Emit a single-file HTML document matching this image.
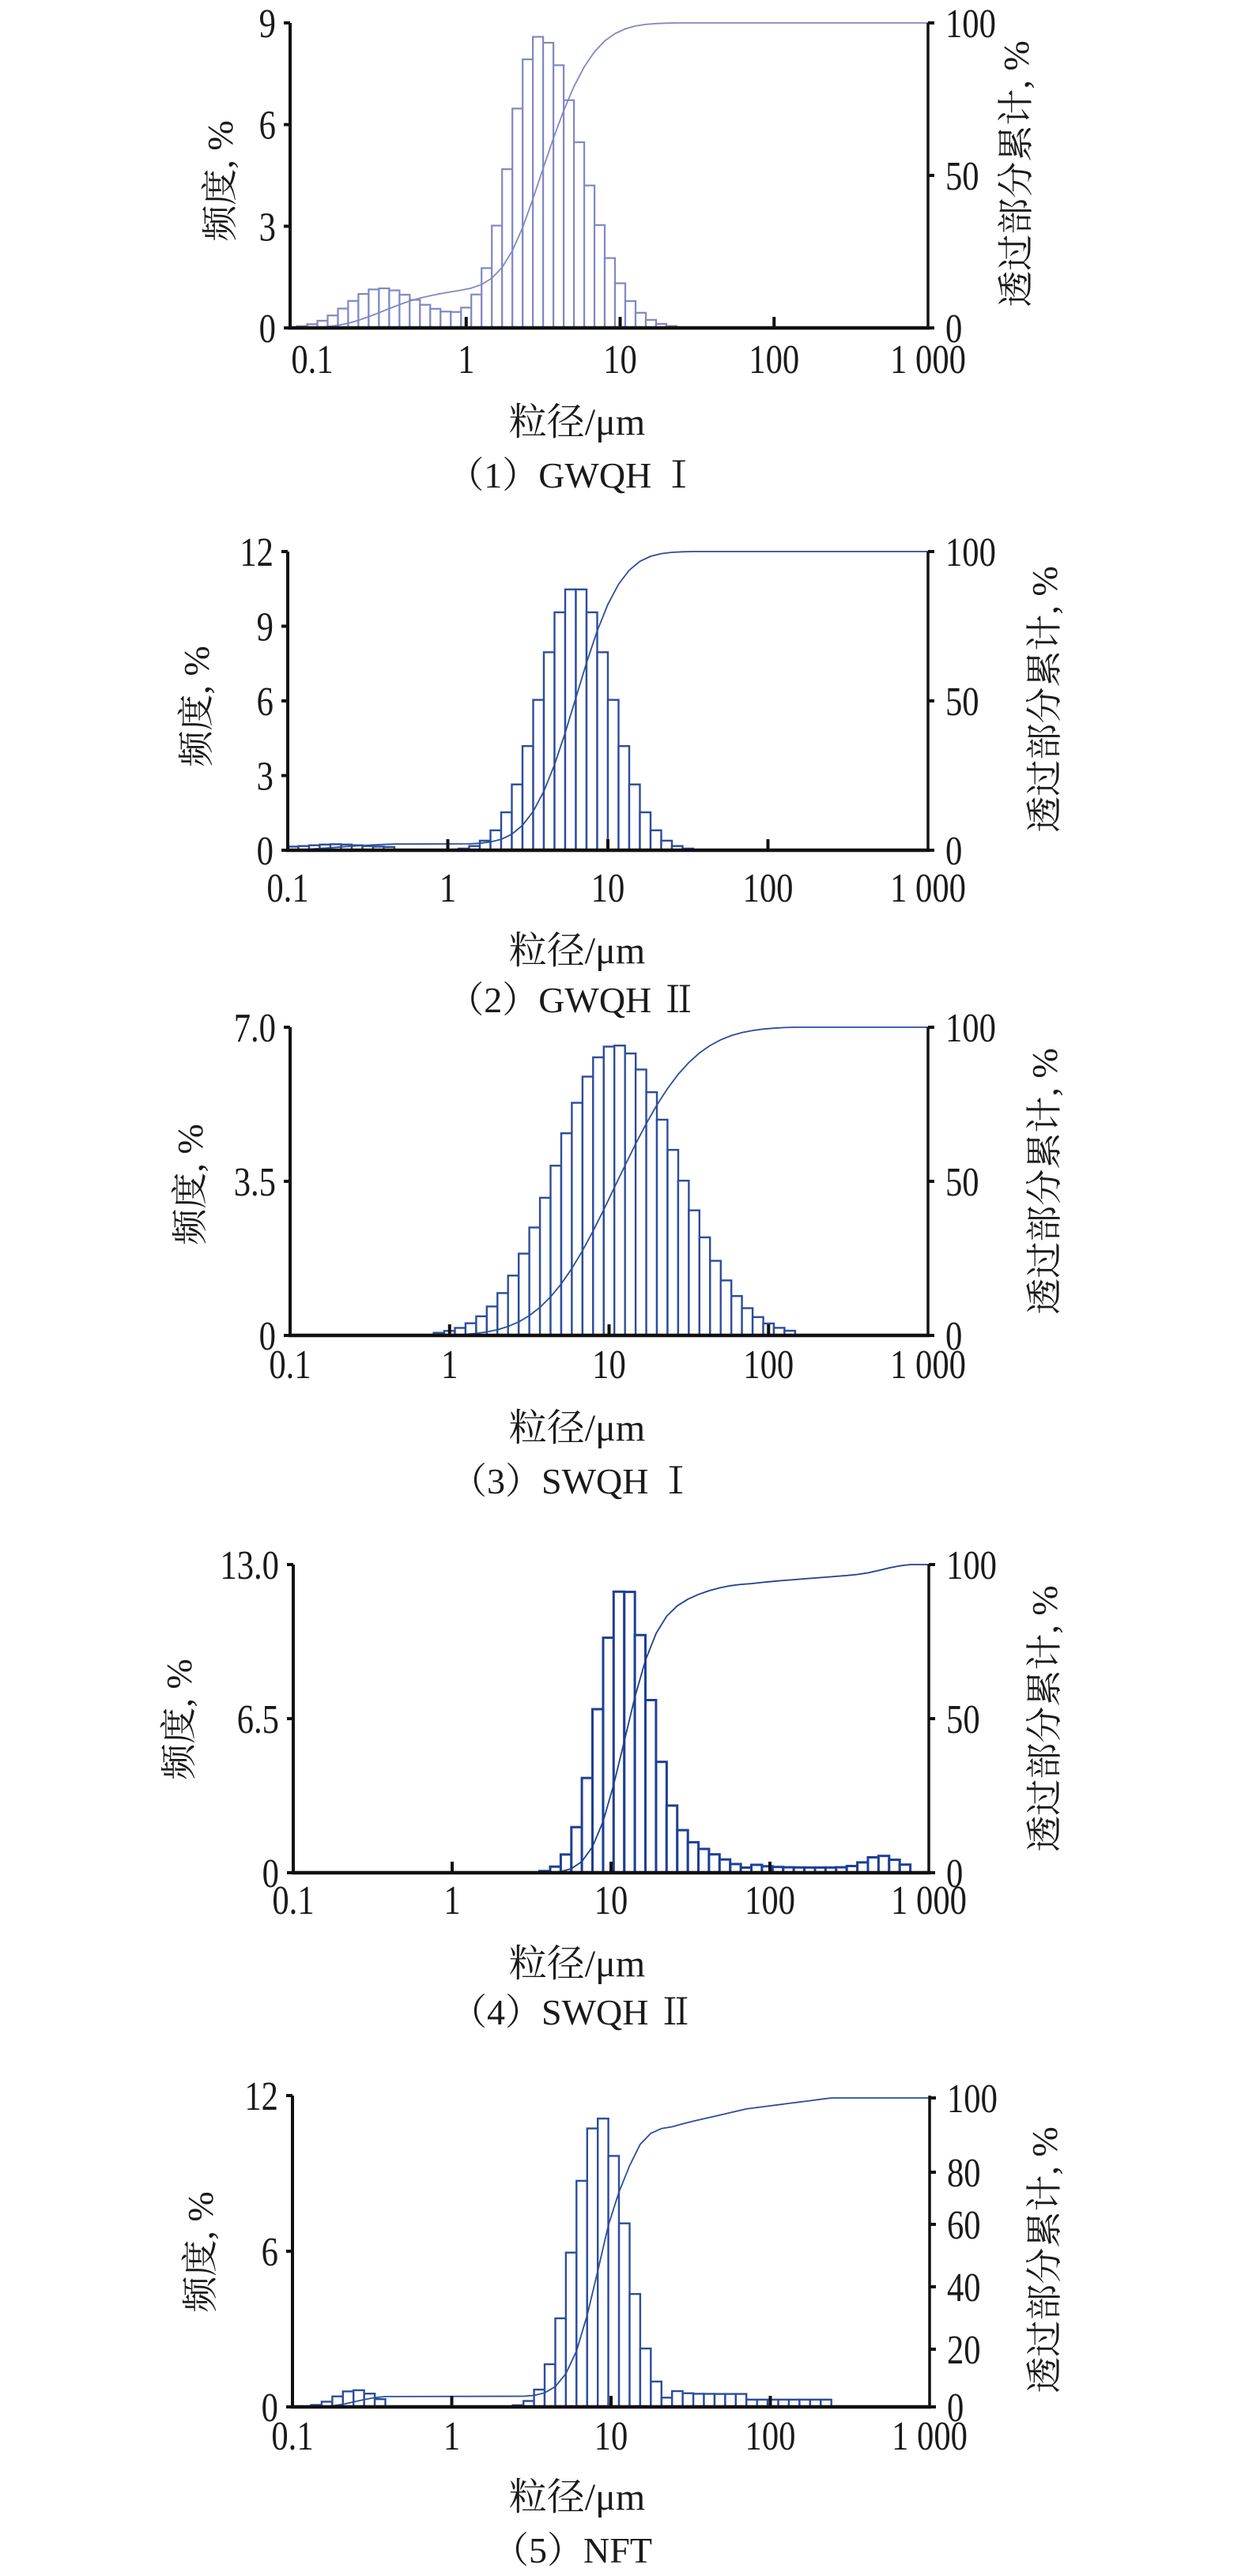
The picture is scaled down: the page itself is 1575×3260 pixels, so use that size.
<!DOCTYPE html>
<html><head><meta charset="utf-8">
<style>
html,body{margin:0;padding:0;background:#fff;}
svg{display:block;}
.t{font-family:"Liberation Serif","Noto Serif CJK SC",serif;fill:#1a1a1a;}
.c{font-family:"Liberation Serif","Noto Serif CJK SC","Noto Sans CJK SC",serif;fill:#1a1a1a;}
</style></head>
<body>
<svg id="s" width="1575" height="3260" viewBox="0 0 1575 3260" xmlns="http://www.w3.org/2000/svg">
<rect width="1575" height="3260" fill="#fff"/>
<g id="g"></g>
</svg>
<script>
var NS="http://www.w3.org/2000/svg";
var G=document.getElementById('g');
function el(n,a,txt){var e=document.createElementNS(NS,n);for(var k in a)e.setAttribute(k,a[k]);if(txt!==undefined)e.textContent=txt;G.appendChild(e);return e;}
function ag(x,m,sl,sr){var s=x<m?sl:sr;var z=(x-m)/s;return Math.exp(-0.5*z*z);}
function g(x,m,s){var z=(x-m)/s;return Math.exp(-0.5*z*z);}
var panels=[
 {L:367,R:1174,T:29,B:415,x01:395,dec:194.75,max:9,yt:[0,3,6,9],yl:["0","3","6","9"],rt:[[0,"0"],[50,"50"],[100,"100"]],col:"#8088c4",sw:2.2,
  lo:-1.1,hi:1.36,f:function(x){return 8.6*ag(x,0.477,0.19,0.27)+1.1*g(x,-0.57,0.2)+0.35*g(x,-0.2,0.2);},
  xlb:472,xt:550,cap:"（1）GWQH Ⅰ",capb:617,lt:278,ly:229,rtx:1285,ry:220},
 {L:364,R:1174,T:698,B:1076,x01:364,dec:202.5,max:12,yt:[0,3,6,9,12],yl:["0","3","6","9","12"],rt:[[0,"0"],[50,"50"],[100,"100"]],col:"#2d4d9c",sw:2.4,
  lo:-1.0,hi:1.56,f:function(x){var v=10.6*ag(x,0.8,0.22,0.22);if(x<-0.35)v+=0.12+0.12*g(x,-0.7,0.15);return v;},
  xlb:1141,xt:1219,cap:"（2）GWQH Ⅱ",capb:1281,lt:248,ly:894,rtx:1321,ry:885},
 {L:367,R:1174,T:1300,B:1690,x01:367,dec:201.75,max:7,yt:[0,3.5,7],yl:["0","3.5","7.0"],rt:[[0,"0"],[50,"50"],[100,"100"]],col:"#2d4d9c",sw:2.4,
  lo:-0.1,hi:2.12,f:function(x){return 6.6*ag(x,1.04,0.36,0.38);},
  xlb:1744,xt:1823,cap:"（3）SWQH Ⅰ",capb:1890,lt:240,ly:1499,rtx:1321,ry:1495},
 {L:371,R:1175,T:1980,B:2370,x01:371,dec:201,max:13,yt:[0,6.5,13],yl:["0","6.5","13.0"],rt:[[0,"0"],[50,"50"],[100,"100"]],col:"#1f3f94",sw:3,
  lo:0.55,hi:2.82,f:function(x){var v=12*ag(x,1.08,0.155,0.16)+1.0*g(x,1.5,0.2);if(x>1.85)v+=0.22;v+=0.5*g(x,2.7,0.09);return v;},
  xlb:2422,xt:2501,cap:"（4）SWQH Ⅱ",capb:2562,lt:226,ly:2176,rtx:1321,ry:2175},
 {L:370,R:1176,T:2652,B:3046,x01:370,dec:201.5,max:12,yt:[0,6,12],yl:["0","6","12"],rt:[[0,"0"],[20,"20"],[40,"40"],[60,"60"],[80,"80"],[100,"100"]],col:"#2d4d9c",sw:2.4,
  rty:{0:3046,20:2973,40:2894,60:2815,80:2749,100:2655},
  lo:-0.95,hi:2.34,f:function(x){if(x>-0.43&&x<0.36)return 0;var v=11.2*ag(x,0.93,0.16,0.16);v+=0.65*g(x,-0.6,0.12);if(x>1.35&&x<=1.85)v+=0.5;if(x>1.85)v+=0.28;return v;},
  xlb:3100,xt:3176,cap:"（5）NFT",capb:3243,lt:253,ly:2850,rtx:1321,ry:2860}
];
var nper=15;
panels.forEach(function(p){
  function X(l){return p.x01+(l+1)*p.dec;}
  function Y(v){return p.B-v/p.max*(p.B-p.T);}
  var w=1/nper;var bars=[];var tot=0;
  for(var l=p.lo;l<p.hi;l+=w){var h=p.f(l+w/2);if(!(h>=0.04))continue;bars.push([l,h]);tot+=h;}
  bars.forEach(function(b){
    var x1=Math.max(X(b[0]),p.L),x2=X(b[0]+w);
    el('rect',{x:x1.toFixed(1),y:Y(b[1]).toFixed(1),width:(x2-x1).toFixed(1),height:(p.B-Y(b[1])).toFixed(1),fill:'#fff',stroke:p.col,'stroke-width':p.sw});
  });
  var pts=[];var cum=0;var sx=X(bars[0][0]);pts.push(sx.toFixed(1)+','+p.B);
  function CY(c){if(p.rty){var ks=[0,20,40,60,80,100];for(var i=0;i<5;i++){if(c<=ks[i+1]){var t=(c-ks[i])/20;return p.rty[ks[i]]+t*(p.rty[ks[i+1]]-p.rty[ks[i]]);}}return p.rty[100];}return p.B-c/100*(p.B-p.T);}
  bars.forEach(function(b){cum+=b[1];var c=cum/tot*100;pts.push(X(b[0]+w).toFixed(1)+','+CY(c).toFixed(1));});
  pts.push(p.R+','+CY(100).toFixed(1));
  el('polyline',{points:pts.join(' '),fill:'none',stroke:p.col,'stroke-width':1.8});
  el('line',{x1:p.L,y1:p.T,x2:p.L,y2:p.B+2,stroke:'#111','stroke-width':4});
  el('line',{x1:p.L-2,y1:p.B,x2:p.R+2,y2:p.B,stroke:'#111','stroke-width':4.5});
  el('line',{x1:p.R,y1:p.T,x2:p.R,y2:p.B,stroke:'#111','stroke-width':3.5});
  p.yt.forEach(function(v,i){var y=Y(v);el('line',{x1:p.L-8,y1:y,x2:p.L,y2:y,stroke:'#111','stroke-width':4});
    el('text',{class:'t',x:p.L-18,y:y+18,'font-size':52,'text-anchor':'end',transform:'translate('+(p.L-18)+',0) scale(0.82,1) translate('+(-(p.L-18))+',0)'},p.yl[i]);});
  p.rt.forEach(function(r){var y=p.rty?p.rty[r[0]]:CY(r[0]);el('line',{x1:p.R,y1:y,x2:p.R+8,y2:y,stroke:'#111','stroke-width':4});
    var tx=p.R+22;el('text',{class:'t',x:tx,y:y+18,'font-size':52,transform:'translate('+tx+',0) scale(0.82,1) translate('+(-tx)+',0)'},r[1]);});
  var xl=["0.1","1","10","100","1 000"];
  for(var i=0;i<5;i++){var x=X(i-1);if(i>0&&i<4)el('line',{x1:x,y1:p.B-14,x2:x,y2:p.B,stroke:'#111','stroke-width':4});
    el('text',{class:'t',x:x,y:p.xlb,'font-size':52,'text-anchor':'middle',transform:'translate('+x+',0) scale(0.82,1) translate('+(-x)+',0)'},xl[i]);}
  el('text',{class:'c',x:730,y:p.xt,'font-size':48,'text-anchor':'middle'},'粒径/μm');
  el('text',{class:'c',x:724,y:p.capb,'font-size':46,'text-anchor':'middle'},p.cap);
  el('text',{class:'c',x:0,y:0,'font-size':46,'text-anchor':'middle',transform:'translate('+(p.lt+16)+','+p.ly+') rotate(-90)'},'频度, %');
  el('text',{class:'c',x:0,y:0,'font-size':46,'text-anchor':'middle',transform:'translate('+(p.rtx+16)+','+p.ry+') rotate(-90)'},'透过部分累计, %');
});
</script>
</body></html>
